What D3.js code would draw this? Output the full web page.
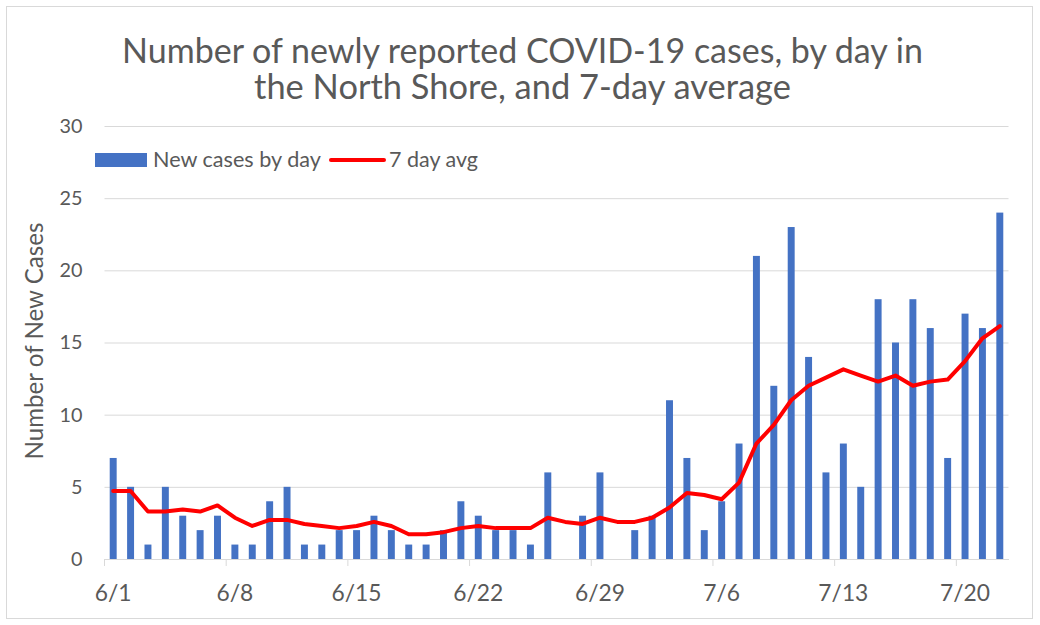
<!DOCTYPE html>
<html>
<head>
<meta charset="utf-8">
<script src="https://cdn.jsdelivr.net/npm/d3@7"></script>
<style>
  html, body { margin: 0; padding: 0; background: #fff; }
  svg { display: block; font-family: Lato, "Open Sans", sans-serif; }
</style>
</head>
<body>
<svg id="chart" width="1040" height="625"></svg>
<script>
const titleLines = ["Number of newly reported COVID-19 cases, by day in", "the North Shore, and 7-day average"];
const yAxisTitle = "Number of New Cases";
const seriesNames = ["New cases by day", "7 day avg"];

const days = ["6/1","6/2","6/3","6/4","6/5","6/6","6/7","6/8","6/9","6/10",
  "6/11","6/12","6/13","6/14","6/15","6/16","6/17","6/18","6/19","6/20",
  "6/21","6/22","6/23","6/24","6/25","6/26","6/27","6/28","6/29","6/30",
  "7/1","7/2","7/3","7/4","7/5","7/6","7/7","7/8","7/9","7/10",
  "7/11","7/12","7/13","7/14","7/15","7/16","7/17","7/18","7/19","7/20",
  "7/21","7/22"];

const newCases = [7,5,1,5,3,2,3,1,1,4,
  5,1,1,2,2,3,2,1,1,2,
  4,3,2,2,1,6,0,3,6,0,
  2,3,11,7,2,4,8,21,12,23,
  14,6,8,5,18,15,18,16,7,17,
  16,24];

const avg7 = [4.71,4.71,3.29,3.29,3.43,3.29,3.71,2.86,2.29,2.71,
  2.71,2.43,2.29,2.14,2.29,2.57,2.29,1.71,1.71,1.86,
  2.14,2.29,2.14,2.14,2.14,2.86,2.57,2.43,2.86,2.57,
  2.57,2.86,3.57,4.57,4.43,4.14,5.29,8.00,9.29,11.00,
  12.00,12.57,13.14,12.71,12.29,12.71,12.00,12.29,12.43,13.71,
  15.29,16.14];

const xTickLabels = ["6/1","6/8","6/15","6/22","6/29","7/6","7/13","7/20"];
const yTickValues = [0,5,10,15,20,25,30];

(function () {
const TEXT = "#595959", GRID = "#D9D9D9", BLUE = "#4472C4", RED = "#FF0000";
const svg = d3.select("#chart");

function fit(sel, target) {
  sel.style("font-size", "20px");
  const w = sel.node().getComputedTextLength();
  const size = 20 * target / w;
  sel.style("font-size", size + "px");
  return size;
}
function fitSize(str, target) {
  const t = svg.append("text").text(str).style("font-size", "20px");
  const w = t.node().getComputedTextLength();
  t.remove();
  return 20 * target / w;
}

// chart border
svg.append("rect").attr("x", 6.5).attr("y", 6.5).attr("width", 1026).attr("height", 612)
  .attr("fill", "#fff").attr("stroke", GRID).attr("stroke-width", 1);

const pLeft = 104.5, pRight = 1008.5, pTop = 126, pBottom = 559;
const x = d3.scaleBand().domain(days).range([pLeft, pRight]).paddingInner(0).paddingOuter(0);
const y = d3.scaleLinear().domain([0, 30]).range([pBottom, pTop]);
const bw = x.bandwidth();

// title
const t1 = svg.append("text").attr("x", 522.5).attr("y", 63).attr("text-anchor", "middle")
  .attr("fill", TEXT).text(titleLines[0]);
fit(t1, 801);
const t2 = svg.append("text").attr("x", 522.5).attr("y", 99).attr("text-anchor", "middle")
  .attr("fill", TEXT).text(titleLines[1]);
fit(t2, 537);

// y axis with gridlines
const ySize = fitSize("30", 23);
const yAxis = svg.append("g").attr("transform", `translate(${pLeft},0)`)
  .call(d3.axisLeft(y).tickValues(yTickValues).tickSize(-(pRight - pLeft)).tickPadding(22));
yAxis.select(".domain").remove();
yAxis.selectAll(".tick line").attr("stroke", GRID).attr("stroke-width", 1);
yAxis.selectAll(".tick text").attr("fill", TEXT).style("font-size", ySize + "px")
  .style("font-family", "Lato, sans-serif");

// x axis
const xSize = fitSize("6/15", 50);
const xAxis = svg.append("g").attr("transform", `translate(0,${pBottom})`)
  .call(d3.axisBottom(x).tickValues(xTickLabels).tickSizeOuter(0).tickSizeInner(7));
xAxis.select(".domain").attr("stroke", GRID).attr("stroke-width", 1);
xAxis.selectAll(".tick line").attr("stroke", GRID).attr("x1", -bw / 2).attr("x2", -bw / 2);
xAxis.selectAll(".tick text").attr("fill", TEXT).attr("y", 42).attr("dy", 0)
  .style("font-size", xSize + "px").style("font-family", "Lato, sans-serif");

// bars
const barW = bw / 2.5;
svg.append("g").selectAll("rect").data(newCases).join("rect")
  .attr("x", (d, i) => x(days[i]) + (bw - barW) / 2)
  .attr("y", d => y(d))
  .attr("width", barW)
  .attr("height", d => pBottom - y(d))
  .attr("fill", BLUE);

// 7-day average line
const line = d3.line().x((d, i) => x(days[i]) + bw / 2).y(d => y(d));
svg.append("path").datum(avg7).attr("d", line)
  .attr("fill", "none").attr("stroke", RED).attr("stroke-width", 4)
  .attr("stroke-linejoin", "round").attr("stroke-linecap", "round");

// y axis title
const yt = svg.append("text").attr("transform", "translate(43,341) rotate(-90)")
  .attr("text-anchor", "middle").attr("fill", TEXT).text(yAxisTitle);
fit(yt, 237);

// legend
svg.append("rect").attr("x", 95).attr("y", 153).attr("width", 52).attr("height", 14).attr("fill", BLUE);
const l1 = svg.append("text").attr("x", 153).attr("y", 167).attr("fill", TEXT).text(seriesNames[0]);
fit(l1, 168);
svg.append("line").attr("x1", 331).attr("x2", 384).attr("y1", 160).attr("y2", 160)
  .attr("stroke", RED).attr("stroke-width", 4).attr("stroke-linecap", "round");
const l2 = svg.append("text").attr("x", 389).attr("y", 167).attr("fill", TEXT).text(seriesNames[1]);
fit(l2, 89);
})();
</script>
</body>
</html>
